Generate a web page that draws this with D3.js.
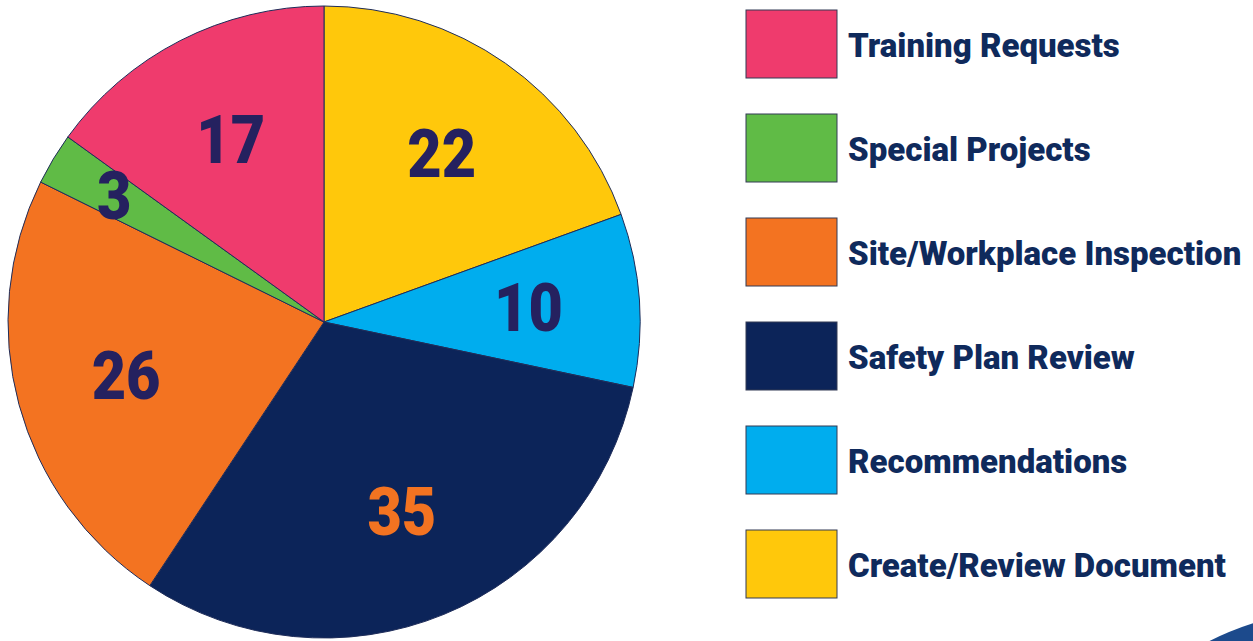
<!doctype html>
<html>
  <head>
    <meta charset="utf-8">
    <title>Pie Chart</title>
    <script src="https://cdn.jsdelivr.net/npm/d3@7"></script>
    <style>
      body { margin: 0; background: #fff; }
      svg { display: block; }
    </style>
  </head>
  <body>
    <script>
      // 数据：按扇区顺序（从12点钟方向顺时针）
      const categories = ['Create/Review Document', 'Recommendations', 'Safety Plan Review',
        'Site/Workplace Inspection', 'Special Projects', 'Training Requests'];
      const values = [22, 10, 35, 26, 3, 17];
      const colors = ['#ffc80b', '#00adee', '#0c2459', '#f37321', '#60bb46', '#ef3b6d'];
      const labelColors = ['#25215f', '#25215f', '#f37321', '#25215f', '#25215f', '#25215f'];
      // 图例顺序
      const legendOrder = ['Training Requests', 'Special Projects', 'Site/Workplace Inspection',
        'Safety Plan Review', 'Recommendations', 'Create/Review Document'];

      const width = 1253;
      const height = 641;
      const cx = 324, cy = 322, radius = 316;

      const svg = d3.select('body').append('svg')
          .attr('width', width)
          .attr('height', height);

      const data = categories.map((c, i) => ({ name: c, value: values[i], color: colors[i], label: labelColors[i] }));

      const pie = d3.pie().value(d => d.value).sort(null);
      const arc = d3.arc().innerRadius(0).outerRadius(radius);
      const labelArc = d3.arc().innerRadius(205).outerRadius(205);
      const smallArc = d3.arc().innerRadius(245).outerRadius(245);

      const gPie = svg.append('g')
          .attr('transform', `translate(${cx}, ${cy})`);

      const arcs = pie(data);

      gPie.selectAll('path')
        .data(arcs)
        .enter().append('path')
          .attr('d', arc)
          .attr('fill', d => d.data.color)
          .attr('stroke', '#1f2d5a')
          .attr('stroke-width', 1);

      // 数值标签
      gPie.selectAll('text')
        .data(arcs)
        .enter().append('text')
          .attr('transform', d => {
            const p = (d.data.value < 5 ? smallArc : labelArc).centroid(d);
            return `translate(${p[0]}, ${p[1]}) scale(0.9, 1)`;
          })
          .attr('text-anchor', 'middle')
          .attr('dy', '0.35em')
          .attr('font-family', 'Roboto, sans-serif')
          .attr('font-weight', 900)
          .attr('font-size', 66)
          .attr('fill', d => d.data.label)
          .text(d => d.data.value);

      // 图例
      const legendY = d3.scaleBand()
          .domain(legendOrder)
          .range([10, 10 + 104 * 6])
          .paddingInner(0);

      const gLegend = svg.append('g');
      const items = gLegend.selectAll('g')
        .data(legendOrder)
        .enter().append('g')
          .attr('transform', d => `translate(746, ${legendY(d)})`);

      items.append('rect')
          .attr('width', 91)
          .attr('height', 68)
          .attr('fill', d => colors[categories.indexOf(d)])
          .attr('stroke', '#333a55')
          .attr('stroke-width', 1);

      items.append('text')
          .attr('transform', 'translate(102, 47)')
          .attr('font-family', 'Roboto, sans-serif')
          .attr('font-weight', 900)
          .attr('font-size', 33)
          .attr('fill', '#0f2a5c')
          .text(d => d);

      // 右下角装饰
      svg.append('circle')
          .attr('cx', 1340)
          .attr('cy', 900)
          .attr('r', 290)
          .attr('fill', '#1c4a8c');
    </script>
  </body>
</html>
